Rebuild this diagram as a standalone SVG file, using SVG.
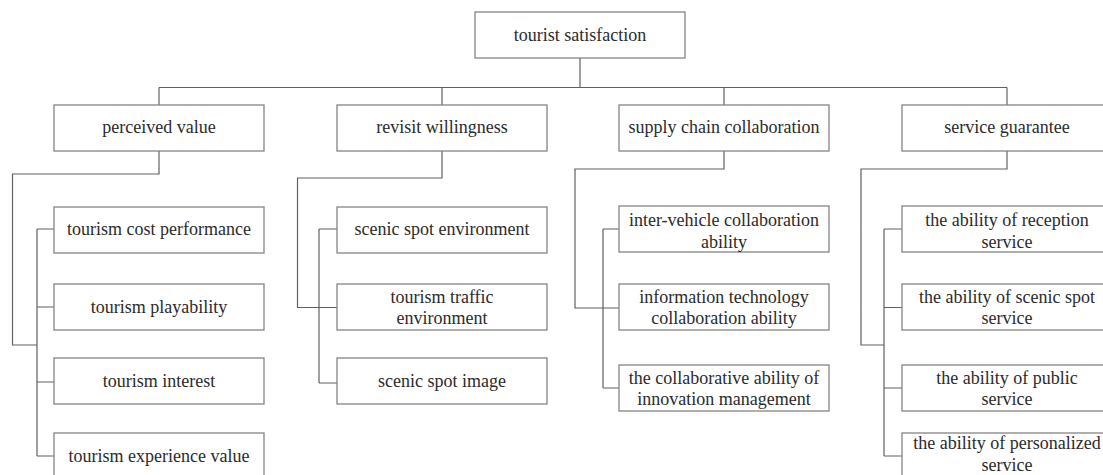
<svg xmlns="http://www.w3.org/2000/svg" width="1103" height="475" viewBox="0 0 1103 475">
<style>
.box{fill:#fff;stroke:#858585;stroke-width:1.3}
.t{font-size:18px;fill:#2b2b2b;text-anchor:middle}
.ln{fill:none;stroke:#606060;stroke-width:1.2}
</style>
<rect width="1103" height="475" fill="#fff"/>
<g id="connectors" class="ln">
<path d="M580 58V87.5M159 87.5H1007M159 87.5V105M442 87.5V105M724 87.5V105M1007 87.5V105"/>
<path d="M159 151V174H12.5V345H37M37 229V456M37 229H54M37 307H54M37 382H54M37 456H54"/>
<path d="M442 151V178H297.5V307.5H337M319 229V383M319 229H337M319 383H337"/>
<path d="M724 151V169H575V308H619M603 229V388M603 229H619M603 388H619"/>
<path d="M1007 151V169H861V345H884M884 229V456M884 229H902M884 307.5H902M884 388H902M884 456H902"/>
</g>
<g font-family="Liberation Serif, Times New Roman, DejaVu Serif, serif">
<g id="root"><rect class="box" x="475" y="12" width="210" height="46"/><text class="t" x="580" y="41">tourist satisfaction</text></g>
<g id="perceived-value"><rect class="box" x="54" y="105" width="210" height="46"/><text class="t" x="159" y="133">perceived value</text></g>
<g id="revisit-willingness"><rect class="box" x="337" y="105" width="210" height="46"/><text class="t" x="442" y="133">revisit willingness</text></g>
<g id="supply-chain"><rect class="box" x="619" y="105" width="210" height="46"/><text class="t" x="724" y="133">supply chain collaboration</text></g>
<g id="service-guarantee"><rect class="box" x="902" y="105" width="210" height="46"/><text class="t" x="1007" y="133">service guarantee</text></g>

<g id="cost-performance"><rect class="box" x="54" y="207" width="210" height="46"/><text class="t" x="159" y="235">tourism cost performance</text></g>
<g id="playability"><rect class="box" x="54" y="284" width="210" height="46"/><text class="t" x="159" y="313">tourism playability</text></g>
<g id="interest"><rect class="box" x="54" y="358" width="210" height="46"/><text class="t" x="159" y="387">tourism interest</text></g>
<g id="experience-value"><rect class="box" x="54" y="433" width="210" height="46"/><text class="t" x="159" y="462">tourism experience value</text></g>

<g id="scenic-environment"><rect class="box" x="337" y="207" width="210" height="46"/><text class="t" x="442" y="235">scenic spot environment</text></g>
<g id="traffic-environment"><rect class="box" x="337" y="284" width="210" height="46"/><text class="t" x="442" y="303">tourism traffic</text><text class="t" x="442" y="324">environment</text></g>
<g id="scenic-image"><rect class="box" x="337" y="358" width="210" height="46"/><text class="t" x="442" y="387">scenic spot image</text></g>

<g id="inter-vehicle"><rect class="box" x="619" y="206" width="210" height="46"/><text class="t" x="724" y="226">inter-vehicle collaboration</text><text class="t" x="724" y="248">ability</text></g>
<g id="it-collaboration"><rect class="box" x="619" y="284" width="210" height="46"/><text class="t" x="724" y="303">information technology</text><text class="t" x="724" y="324">collaboration ability</text></g>
<g id="innovation-management"><rect class="box" x="619" y="365" width="210" height="46"/><text class="t" x="724" y="384">the collaborative ability of</text><text class="t" x="724" y="405">innovation management</text></g>

<g id="reception-service"><rect class="box" x="902" y="206" width="210" height="46"/><text class="t" x="1007" y="226">the ability of reception</text><text class="t" x="1007" y="248">service</text></g>
<g id="scenic-service"><rect class="box" x="902" y="284" width="210" height="46"/><text class="t" x="1007" y="303">the ability of scenic spot</text><text class="t" x="1007" y="324">service</text></g>
<g id="public-service"><rect class="box" x="902" y="365" width="210" height="46"/><text class="t" x="1007" y="384">the ability of public</text><text class="t" x="1007" y="405">service</text></g>
<g id="personalized-service"><rect class="box" x="902" y="433" width="210" height="46"/><text class="t" x="1007" y="449">the ability of personalized</text><text class="t" x="1007" y="471">service</text></g>
</g>
</svg>
